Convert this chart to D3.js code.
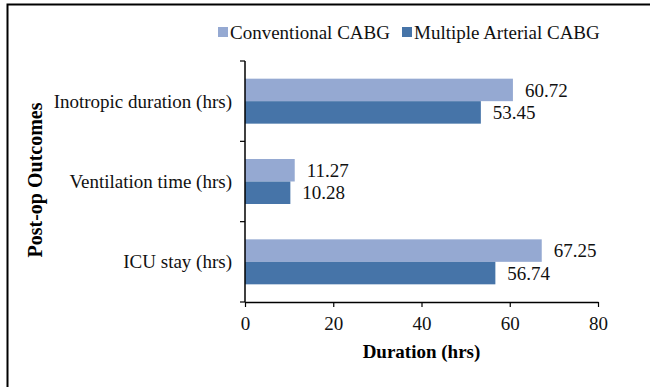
<!DOCTYPE html>
<html>
<head>
<meta charset="utf-8">
<script src="https://cdn.jsdelivr.net/npm/d3@7/dist/d3.min.js"></script>
<style>
  html, body { margin: 0; padding: 0; background: #fff; }
  svg { display: block; font-family: "Liberation Serif", "Times New Roman", serif; }
</style>
</head>
<body>
<svg id="chart" width="650" height="387"></svg>
<script>
// Post-operative outcomes, conventional vs multiple arterial CABG
const categories = ["Inotropic duration (hrs)", "Ventilation time (hrs)", "ICU stay (hrs)"];
const seriesNames = ["Conventional CABG", "Multiple Arterial CABG"];
const conventional = [60.72, 11.27, 67.25];
const multipleArterial = [53.45, 10.28, 56.74];
const xTicks = [0, 20, 40, 60, 80];
const colors = ["#95A9D2", "#4674A8"];

const FS = 19;
const svg = d3.select("#chart");
const margin = { left: 245, top: 61, right: 52, bottom: 85 };
const W = 650, H = 387;
const plotW = W - margin.left - margin.right;
const plotH = H - margin.top - margin.bottom;

// frame
svg.append("path")
  .attr("d", `M7.5,${H} V4.5 H${W}`)
  .attr("fill", "none").attr("stroke", "#000").attr("stroke-width", 2);

const g = svg.append("g").attr("transform", `translate(${margin.left},${margin.top})`);

const x = d3.scaleLinear().domain([0, 80]).range([0, plotW]);
const y = d3.scaleBand().domain(categories).range([0, plotH]).paddingInner(0.44).paddingOuter(0.22);
const ySub = d3.scaleBand().domain(seriesNames).range([0, y.bandwidth()]);

const rows = categories.map((c, i) => ({ cat: c, values: [conventional[i], multipleArterial[i]] }));

const grp = g.selectAll("g.row").data(rows).join("g")
  .attr("transform", d => `translate(0,${y(d.cat)})`);

grp.selectAll("rect").data(d => d.values.map((v, j) => ({ v, s: seriesNames[j], j }))).join("rect")
  .attr("x", 0)
  .attr("y", d => ySub(d.s))
  .attr("width", d => x(d.v))
  .attr("height", ySub.bandwidth())
  .attr("fill", d => colors[d.j]);

grp.selectAll("text.val").data(d => d.values.map((v, j) => ({ v, s: seriesNames[j] }))).join("text")
  .attr("class", "val")
  .attr("x", d => x(d.v) + 12)
  .attr("y", d => ySub(d.s) + ySub.bandwidth() / 2)
  .attr("dy", "0.35em")
  .attr("font-size", FS)
  .attr("fill", "#111")
  .text(d => d.v.toFixed(2));

// x axis
const xAxis = g.append("g").attr("transform", `translate(0,${plotH})`)
  .call(d3.axisBottom(x).tickValues(xTicks).tickSize(5).tickPadding(10).tickSizeOuter(0));
xAxis.select(".domain").attr("stroke", "#000").attr("stroke-width", 1.5);
xAxis.selectAll(".tick line").attr("stroke", "#000").attr("stroke-width", 1.2);
xAxis.selectAll("text").attr("font-size", FS).attr("fill", "#111")
  .attr("font-family", "Liberation Serif, Times New Roman, serif");

// y axis with boundary ticks between categories
const yAxisG = g.append("g");
yAxisG.append("line").attr("x1", 0).attr("x2", 0).attr("y1", 0).attr("y2", plotH)
  .attr("stroke", "#000").attr("stroke-width", 1.5);
const step = plotH / categories.length;
yAxisG.selectAll("line.tk").data(d3.range(categories.length + 1)).join("line")
  .attr("class", "tk")
  .attr("x1", -5).attr("x2", 0)
  .attr("y1", d => d * step).attr("y2", d => d * step)
  .attr("stroke", "#000").attr("stroke-width", 1.2);
yAxisG.selectAll("text").data(categories).join("text")
  .attr("x", -13)
  .attr("y", d => y(d) + y.bandwidth() / 2)
  .attr("dy", "0.35em")
  .attr("text-anchor", "end")
  .attr("font-size", FS)
  .attr("fill", "#111")
  .text(d => d);

// axis titles
svg.append("text")
  .attr("x", margin.left + plotW / 2).attr("y", 358)
  .attr("text-anchor", "middle").attr("font-size", FS).attr("font-weight", "bold")
  .text("Duration (hrs)");
svg.append("text")
  .attr("transform", `translate(42,180) rotate(-90)`)
  .attr("text-anchor", "middle").attr("font-size", 20).attr("font-weight", "bold")
  .text("Post-op Outcomes");

// legend
const legend = svg.append("g").attr("transform", "translate(218,32)");
const legendX = [0, 184];
seriesNames.forEach((name, i) => {
  const lg = legend.append("g").attr("transform", `translate(${legendX[i]},0)`);
  lg.append("rect").attr("x", 0).attr("y", -5).attr("width", 10).attr("height", 10).attr("fill", colors[i]);
  lg.append("text").attr("x", 12).attr("y", 0).attr("dy", "0.35em")
    .attr("font-size", FS).attr("fill", "#111").text(name);
});
</script>
</body>
</html>
